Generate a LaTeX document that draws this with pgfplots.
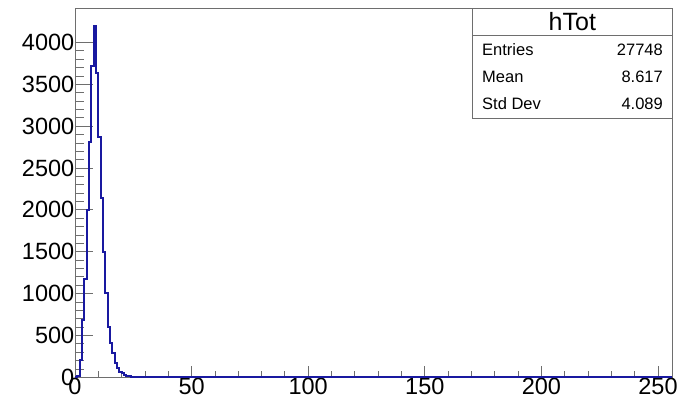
\documentclass[border=0pt]{standalone}
\usepackage{fontspec}
\setmainfont{Liberation Sans}
\usepackage{pgfplots}
\pgfplotsset{compat=1.18}
\definecolor{rootblue}{RGB}{25,25,160}
\definecolor{framegray}{RGB}{110,110,110}
\begin{document}
\begin{tikzpicture}
\useasboundingbox (-75pt,-22.7pt) rectangle (606pt,377.3pt);
\begin{axis}[at={(0,0)}, anchor=south west, scale only axis,
  width=597pt, height=369pt,
  xmin=0, xmax=256, ymin=0, ymax=4408,
  xtick={0,50,...,250}, ytick={0,500,...,4000},
  minor x tick num=4, minor y tick num=4,
  xtick pos=bottom, ytick pos=left, tick align=inside,
  axis line style={framegray, line width=0.8pt},
  tick style={framegray, line width=0.8pt},
  major tick length=18pt, minor tick length=9pt,
  xtick style={/pgfplots/major tick length=11pt,/pgfplots/minor tick length=6pt},
  ticklabel style={font=\fontsize{23.5}{24}\selectfont},
  /pgf/number format/assume math mode=true,
  /pgf/number format/1000 sep={},
  yticklabel style={xshift=2.8pt},
  xticklabel style={yshift=2.6pt},
]
\addplot[const plot mark left, rootblue, line width=2pt, mark=none, line join=miter] coordinates {
(0,0) (1,19) (2,207) (3,685) (4,1171) (5,1999) (6,2815) (7,3723) (8,4201)
(9,3632) (10,2875) (11,2139) (12,1501) (13,1004) (14,605) (15,406) (16,287)
(17,167) (18,108) (19,67) (20,48) (21,27) (22,18) (23,12) (24,9) (25,7)
(26,5) (27,4) (28,3) (29,2) (30,1) (31,0) (256,0)
};
\end{axis}
% stats box
\draw[framegray, line width=0.8pt, fill=white] (397.7pt,259.3pt) rectangle (597pt,369pt);
\draw[framegray, line width=0.8pt] (397.7pt,341.7pt) -- (597pt,341.7pt);
\node[font=\fontsize{25}{26}\selectfont, inner sep=0pt] at (497.3pt,355.3pt) {hTot};
\node[font=\fontsize{16.5}{18}\selectfont, anchor=west, inner sep=0pt] at (407pt,327.3pt) {Entries};
\node[font=\fontsize{16.5}{18}\selectfont, anchor=east, inner sep=0pt] at (588pt,327.3pt) {27748};
\node[font=\fontsize{16.5}{18}\selectfont, anchor=west, inner sep=0pt] at (407pt,300.3pt) {Mean};
\node[font=\fontsize{16.5}{18}\selectfont, anchor=east, inner sep=0pt] at (588pt,300.3pt) {8.617};
\node[font=\fontsize{16.5}{18}\selectfont, anchor=west, inner sep=0pt] at (407pt,273.3pt) {Std Dev};
\node[font=\fontsize{16.5}{18}\selectfont, anchor=east, inner sep=0pt] at (588pt,273.3pt) {4.089};
\end{tikzpicture}
\end{document}
